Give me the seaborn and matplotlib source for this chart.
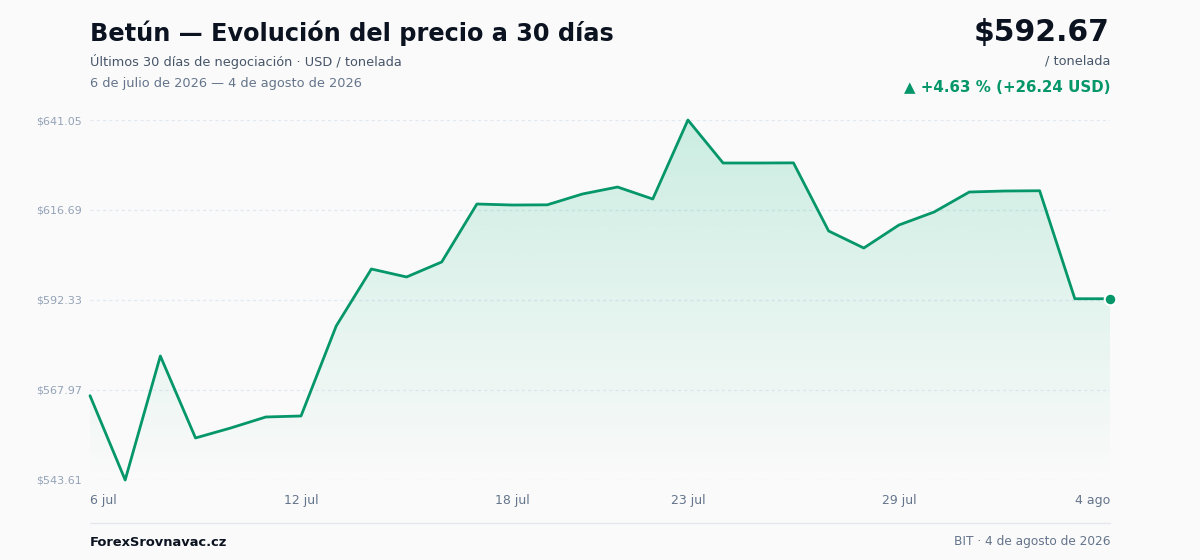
import numpy as np
import pandas as pd
import matplotlib
matplotlib.use("Agg")
import matplotlib.pyplot as plt
import seaborn as sns
from matplotlib.colors import to_rgb

sns.set_theme(style="white")
plt.rcParams['font.family'] = ['DejaVu Sans']

# --- data ---
dates = pd.date_range("2026-07-06", "2026-08-04", freq="D")
prices = [566.43, 543.61, 577.17, 554.98, 557.68, 560.66, 560.93, 585.29, 600.72, 598.56,
          602.62, 618.31, 618.04, 618.09, 621.02, 622.91, 619.66, 641.05, 629.41, 629.41,
          629.45, 611.01, 606.40, 612.63, 616.15, 621.56, 621.83, 621.90, 592.67, 592.67]
y_ticks = [543.61, 567.97, 592.33, 616.69, 641.05]
x_tick_dates = pd.to_datetime(["2026-07-06", "2026-07-12", "2026-07-18",
                               "2026-07-23", "2026-07-29", "2026-08-04"])
x_tick_labels = ["6 jul", "12 jul", "18 jul", "23 jul", "29 jul", "4 ago"]

df = pd.DataFrame({"fecha": dates, "precio": prices})

GREEN = "#059669"
BG = "#fafafa"

fig = plt.figure(figsize=(12, 5.6), dpi=100, facecolor=BG)
ax = fig.add_axes([0.075, 0.1429, 0.85, 0.6428])
ax.set_facecolor(BG)

ymin, ymax = y_ticks[0], y_ticks[-1]

# gradient fill under the line (strong at top, fading to nothing at the bottom)
poly = ax.fill_between(df["fecha"], df["precio"], ymin, color="none", lw=0)
x0, x1 = matplotlib.dates.date2num(dates[0]), matplotlib.dates.date2num(dates[-1])
grad = np.zeros((256, 1, 4))
grad[:, 0, :3] = to_rgb("#10b981")
grad[:, 0, 3] = np.linspace(0.20, 0.0, 256)
im = ax.imshow(grad, aspect="auto", extent=[x0, x1, ymin, ymax], origin="upper", zorder=1)
im.set_clip_path(poly.get_paths()[0], transform=ax.transData)

sns.lineplot(data=df, x="fecha", y="precio", ax=ax, color=GREEN, lw=2, zorder=3, clip_on=False)
ax.scatter(dates[-1], prices[-1], s=70, color=GREEN, edgecolor="white", linewidth=1.5,
           zorder=4, clip_on=False)

ax.set_xlim(dates[0], dates[-1])
ax.set_ylim(ymin, ymax)
ax.set_yticks(y_ticks)
ax.set_yticklabels([f"${v:.2f}" for v in y_ticks], fontsize=8, color="#94a3b8")
ax.set_xticks(x_tick_dates)
ax.set_xticklabels(x_tick_labels, fontsize=9, color="#64748b")
tl = ax.get_xticklabels()
tl[0].set_ha("left")
tl[-1].set_ha("right")
ax.tick_params(axis="x", length=0, pad=10)
ax.tick_params(axis="y", length=0, pad=6)
for v in y_ticks:
    ax.axhline(v, color="#e2e8f0", lw=0.9, ls=(0, (2.5, 2.5)), zorder=0)
for s in ax.spines.values():
    s.set_visible(False)
ax.set_xlabel("")
ax.set_ylabel("")

# header texts
fig.text(0.075, 1 - 33 / 560, "Betún — Evolución del precio a 30 días", fontsize=17.3,
         fontweight="bold", color="#0b1220", va="center")
fig.text(0.075, 1 - 61 / 560, "Últimos 30 días de negociación · USD / tonelada", fontsize=9.3,
         color="#475569", va="center")
fig.text(0.075, 1 - 83 / 560, "6 de julio de 2026 — 4 de agosto de 2026", fontsize=9.3,
         color="#64748b", va="center")
fig.text(0.925, 1 - 32 / 560, f"${prices[-1]:.2f}", fontsize=21.5, fontweight="bold",
         color="#0b1220", ha="right", va="center")
fig.text(0.925, 1 - 61 / 560, "/ tonelada", fontsize=9.3, color="#475569", ha="right", va="center")
change = prices[-1] - prices[0]
pct = change / prices[0] * 100
fig.text(0.925, 1 - 87 / 560, f"▲ +{pct:.2f} % (+{change:.2f} USD)", fontsize=10.85,
         fontweight="bold", color=GREEN, ha="right", va="center")

# footer
fig.add_artist(plt.Line2D([0.075, 0.925], [1 - 523 / 560] * 2, color="#e5e7eb", lw=1))
fig.text(0.075, 1 - 542 / 560, "ForexSrovnavac.cz", fontsize=9.4, fontweight="bold",
         color="#0b1220", va="center")
fig.text(0.925, 1 - 542 / 560, "BIT · 4 de agosto de 2026", fontsize=8.7, color="#64748b",
         ha="right", va="center")

fig.savefig("out.png", dpi=100, facecolor=BG)
